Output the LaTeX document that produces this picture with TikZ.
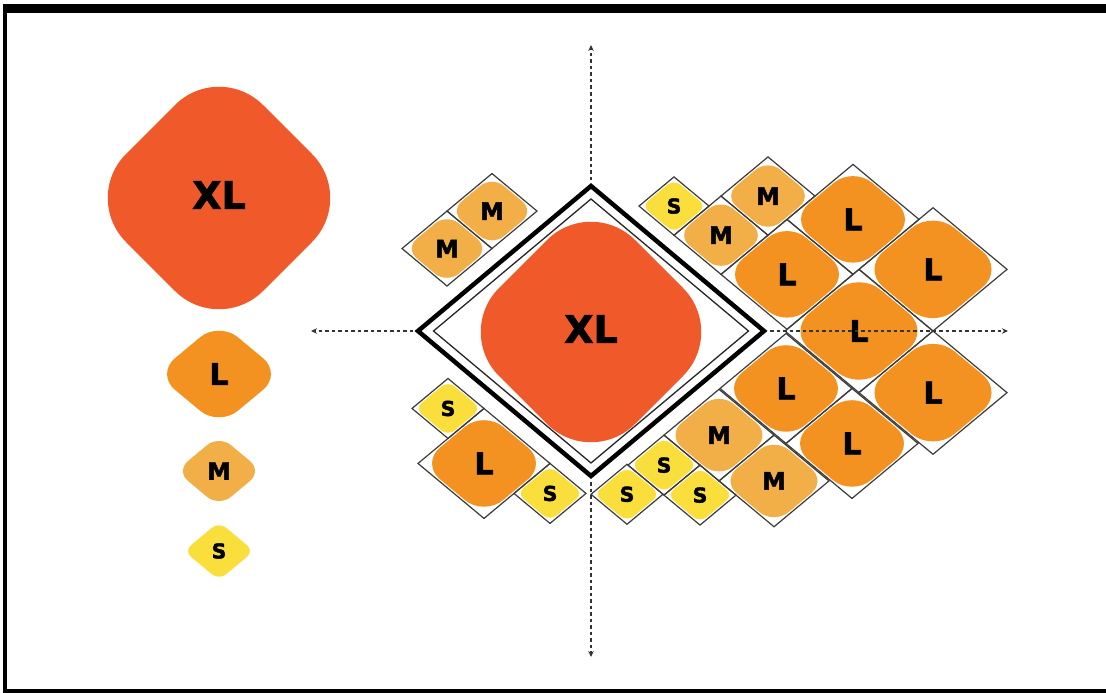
\documentclass[tikz,border=0pt]{standalone}
\usepackage{fontspec}
\newfontfamily\lblfont{DejaVu Sans}[BoldFeatures={FakeBold=2}]
\usetikzlibrary{arrows.meta}
\definecolor{cXL}{RGB}{240,90,42}
\definecolor{cL}{RGB}{243,146,32}
\definecolor{cM}{RGB}{242,175,72}
\definecolor{cS}{RGB}{250,222,60}
\definecolor{celledge}{RGB}{60,60,60}
\newcommand\fXL{\lblfont\bfseries\fontsize{38}{38}\selectfont}
\newcommand\fL{\lblfont\bfseries\fontsize{30}{30}\selectfont}
\newcommand\fM{\lblfont\bfseries\fontsize{24}{24}\selectfont}
\newcommand\fS{\lblfont\bfseries\fontsize{20.5}{20.5}\selectfont}
\tikzset{
  sq/.style={x={(1pt,-0.833pt)},y={(1pt,0.833pt)}},
  sqone/.style={x={(1pt,-1pt)},y={(1pt,1pt)}},
  cellline/.style={draw=celledge,line width=1.2pt,line join=miter},
  lbl/.style={inner sep=0pt,text=black},
  axisline/.style={draw=black!80,line width=1.1pt,dash pattern=on 3.5pt off 3pt,-{Stealth[length=6pt,width=5.5pt]}}
}
% rounded square in the current (s,t) system: centre s, centre t, half side, radius, fill
\newcommand\rsq[5]{%
 \pgfmathsetmacro\rqA{#1-#3}%
 \pgfmathsetmacro\rqB{#1+#3}%
 \pgfmathsetmacro\rqC{#2-#3}%
 \pgfmathsetmacro\rqD{#2+#3}%
 \pgfmathsetmacro\rqR{#4}%
 \pgfmathsetmacro\rqQ{0.4477*#4}%
 \fill[#5] (\rqA+\rqR,\rqC) -- (\rqB-\rqR,\rqC)
   .. controls (\rqB-\rqQ,\rqC) and (\rqB,\rqC+\rqQ) .. (\rqB,\rqC+\rqR)
   -- (\rqB,\rqD-\rqR)
   .. controls (\rqB,\rqD-\rqQ) and (\rqB-\rqQ,\rqD) .. (\rqB-\rqR,\rqD)
   -- (\rqA+\rqR,\rqD)
   .. controls (\rqA+\rqQ,\rqD) and (\rqA,\rqD-\rqQ) .. (\rqA,\rqD-\rqR)
   -- (\rqA,\rqC+\rqR)
   .. controls (\rqA,\rqC+\rqQ) and (\rqA+\rqQ,\rqC) .. (\rqA+\rqR,\rqC) -- cycle;}
% tile: name, s0, t0, side, colour, radius ratio, font, text
\newcommand\tile[8]{%
 \draw[cellline] (#2,#3) -- (#2+#4,#3) -- (#2+#4,#3+#4) -- (#2,#3+#4) -- cycle;
 \pgfmathsetmacro\tlH{#4/2-1.5}%
 \pgfmathsetmacro\tlR{#6*2*\tlH}%
 \pgfmathsetmacro\tlS{#2+#4/2}%
 \pgfmathsetmacro\tlT{#3+#4/2}%
 \rsq{\tlS}{\tlT}{\tlH}{\tlR}{#5}%
 \node[lbl,font=#7] (#1) at (\tlS,\tlT) {#8};}
\begin{document}
\begin{tikzpicture}[x=1pt,y=-1pt]
\useasboundingbox (0,0) rectangle (1106,693);
\fill[white] (0,0) rectangle (1106,693);
% outer border
\fill[black] (3,4) rectangle (1106,13);
\fill[black] (3,4) rectangle (7,693);
\fill[black] (3,689) rectangle (1106,693);

% legend column
\begin{scope}[shift={(219,198)},sqone] \rsq{0}{0}{68.5}{44}{cXL} \end{scope}
\begin{scope}[shift={(219,374)},sq] \rsq{0}{0}{31.5}{18.9}{cL} \end{scope}
\begin{scope}[shift={(219,471)},sq] \rsq{0}{0}{21.5}{12}{cM} \end{scope}
\begin{scope}[shift={(219,551)},sq] \rsq{0}{0}{17.5}{7}{cS} \end{scope}
\node[lbl,font=\fXL] (lXL) at (219,195) {XL};
\node[lbl,font=\fL] (lL) at (219,374) {L};
\node[lbl,font=\fM] (lM) at (219,471) {M};
\node[lbl,font=\fS] (lS) at (219,551) {S};

% tiles around the frame
\begin{scope}[shift={(591,331)},sq]
\tile{gM1}{-144}{0}{45}{cM}{0.28}{\fM}{M}
\tile{gM2}{-144}{-45}{45}{cM}{0.28}{\fM}{M}
\tile{gS1}{-51}{99}{35}{cS}{0.2}{\fS}{S}
\tile{gM3}{-16}{99}{47}{cM}{0.28}{\fM}{M}
\tile{gM4}{-16}{146}{47}{cM}{0.28}{\fM}{M}
\tile{gL1}{31}{99}{66}{cL}{0.3}{\fL}{L}
\tile{gL2}{31}{165}{66}{cL}{0.3}{\fL}{L}
\tile{gL3}{97}{97}{74}{cL}{0.3}{\fL}{L}
\tile{gL4}{97}{171}{74}{cL}{0.3}{\fL}{L}
\tile{gL5}{99}{30}{66}{cL}{0.3}{\fL}{L}
\tile{gL6}{165}{30}{66}{cL}{0.3}{\fL}{L}
\tile{gL7}{171}{97}{74}{cL}{0.3}{\fL}{L}
\tile{gM5}{99}{-26}{55}{cM}{0.28}{\fM}{M}
\tile{gM6}{154}{-26}{55}{cM}{0.28}{\fM}{M}
\tile{gS2}{99}{-62}{36}{cS}{0.2}{\fS}{S}
\tile{gS3}{135}{-62}{36}{cS}{0.2}{\fS}{S}
\tile{gS4}{98}{-98}{36}{cS}{0.2}{\fS}{S}
\tile{gS5}{-43}{-136}{36}{cS}{0.2}{\fS}{S}
\tile{gL8}{-7}{-166}{66}{cL}{0.3}{\fL}{L}
\tile{gS6}{59}{-136}{36}{cS}{0.2}{\fS}{S}
\end{scope}

% frame
\coordinate (fL) at (418,331);
\coordinate (fT) at (591,186);
\coordinate (fR) at (764,331);
\coordinate (fB) at (591,476);
\coordinate (iL) at (433.5,331);
\coordinate (iT) at (591,199);
\coordinate (iR) at (748.5,331);
\coordinate (iB) at (591,463);
\draw[line width=4.5pt,line join=miter] (fL) -- (fT) -- (fR) -- (fB) -- cycle;
\draw[line width=1.3pt,black!85,line join=miter] (iL) -- (iT) -- (iR) -- (iB) -- cycle;
\begin{scope}[shift={(591,332)},sqone] \rsq{0}{0}{68}{44}{cXL} \end{scope}
\node[lbl,font=\fXL] (cXLlabel) at (591,329) {XL};

% axes
\coordinate (tT) at (591,180);
\coordinate (tB) at (591,482);
\coordinate (tL) at (413,331);
\coordinate (tR) at (770,331);
\coordinate (aT) at (591,45);
\coordinate (aB) at (591,657);
\coordinate (aL) at (311,331);
\coordinate (aR) at (1008,331);
\draw[axisline] (tT) -- (aT);
\draw[axisline] (tB) -- (aB);
\draw[axisline] (tL) -- (aL);
\draw[axisline] (tR) -- (aR);
\end{tikzpicture}
\end{document}
